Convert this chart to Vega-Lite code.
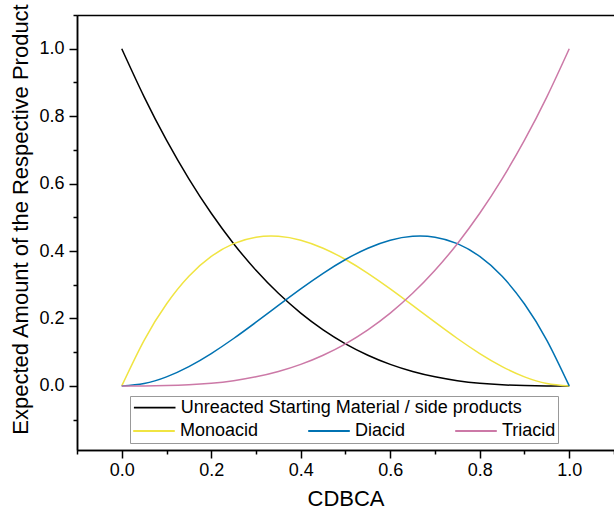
{
  "$schema": "https://vega.github.io/schema/vega-lite/v6.json",
  "width": 537,
  "height": 435,
  "autosize": {"type": "none"},
  "padding": {"left": 77, "top": 15, "right": 0, "bottom": 65},
  "config": {
    "font": "Liberation Sans",
    "view": {"stroke": null},
    "axis": {"grid": false, "domainColor": "#000000", "domainWidth": 1.5, "tickColor": "#000000", "tickWidth": 1.5, "labelColor": "#000000", "labelFontSize": 18, "titleColor": "#000000", "titleFontSize": 22, "titleFontWeight": "normal", "labelFlush": false, "labelOverlap": false, "labelBound": false}
  },
  "data": {"values": [
    {"x": 0, "y": 1, "s": "Unreacted Starting Material / side products"},
    {"x": 0.05, "y": 0.857375, "s": "Unreacted Starting Material / side products"},
    {"x": 0.1, "y": 0.729, "s": "Unreacted Starting Material / side products"},
    {"x": 0.15, "y": 0.614125, "s": "Unreacted Starting Material / side products"},
    {"x": 0.2, "y": 0.512, "s": "Unreacted Starting Material / side products"},
    {"x": 0.25, "y": 0.421875, "s": "Unreacted Starting Material / side products"},
    {"x": 0.3, "y": 0.343, "s": "Unreacted Starting Material / side products"},
    {"x": 0.35, "y": 0.274625, "s": "Unreacted Starting Material / side products"},
    {"x": 0.4, "y": 0.216, "s": "Unreacted Starting Material / side products"},
    {"x": 0.45, "y": 0.166375, "s": "Unreacted Starting Material / side products"},
    {"x": 0.5, "y": 0.125, "s": "Unreacted Starting Material / side products"},
    {"x": 0.55, "y": 0.091125, "s": "Unreacted Starting Material / side products"},
    {"x": 0.6, "y": 0.064, "s": "Unreacted Starting Material / side products"},
    {"x": 0.65, "y": 0.042875, "s": "Unreacted Starting Material / side products"},
    {"x": 0.7, "y": 0.027, "s": "Unreacted Starting Material / side products"},
    {"x": 0.75, "y": 0.015625, "s": "Unreacted Starting Material / side products"},
    {"x": 0.8, "y": 0.008, "s": "Unreacted Starting Material / side products"},
    {"x": 0.85, "y": 0.003375, "s": "Unreacted Starting Material / side products"},
    {"x": 0.9, "y": 0.001, "s": "Unreacted Starting Material / side products"},
    {"x": 0.95, "y": 0.000125, "s": "Unreacted Starting Material / side products"},
    {"x": 1, "y": 0, "s": "Unreacted Starting Material / side products"},
    {"x": 0, "y": 0, "s": "Monoacid"},
    {"x": 0.05, "y": 0.135375, "s": "Monoacid"},
    {"x": 0.1, "y": 0.243, "s": "Monoacid"},
    {"x": 0.15, "y": 0.325125, "s": "Monoacid"},
    {"x": 0.2, "y": 0.384, "s": "Monoacid"},
    {"x": 0.25, "y": 0.421875, "s": "Monoacid"},
    {"x": 0.3, "y": 0.441, "s": "Monoacid"},
    {"x": 0.35, "y": 0.443625, "s": "Monoacid"},
    {"x": 0.4, "y": 0.432, "s": "Monoacid"},
    {"x": 0.45, "y": 0.408375, "s": "Monoacid"},
    {"x": 0.5, "y": 0.375, "s": "Monoacid"},
    {"x": 0.55, "y": 0.334125, "s": "Monoacid"},
    {"x": 0.6, "y": 0.288, "s": "Monoacid"},
    {"x": 0.65, "y": 0.238875, "s": "Monoacid"},
    {"x": 0.7, "y": 0.189, "s": "Monoacid"},
    {"x": 0.75, "y": 0.140625, "s": "Monoacid"},
    {"x": 0.8, "y": 0.096, "s": "Monoacid"},
    {"x": 0.85, "y": 0.057375, "s": "Monoacid"},
    {"x": 0.9, "y": 0.027, "s": "Monoacid"},
    {"x": 0.95, "y": 0.007125, "s": "Monoacid"},
    {"x": 1, "y": 0, "s": "Monoacid"},
    {"x": 0, "y": 0, "s": "Diacid"},
    {"x": 0.05, "y": 0.007125, "s": "Diacid"},
    {"x": 0.1, "y": 0.027, "s": "Diacid"},
    {"x": 0.15, "y": 0.057375, "s": "Diacid"},
    {"x": 0.2, "y": 0.096, "s": "Diacid"},
    {"x": 0.25, "y": 0.140625, "s": "Diacid"},
    {"x": 0.3, "y": 0.189, "s": "Diacid"},
    {"x": 0.35, "y": 0.238875, "s": "Diacid"},
    {"x": 0.4, "y": 0.288, "s": "Diacid"},
    {"x": 0.45, "y": 0.334125, "s": "Diacid"},
    {"x": 0.5, "y": 0.375, "s": "Diacid"},
    {"x": 0.55, "y": 0.408375, "s": "Diacid"},
    {"x": 0.6, "y": 0.432, "s": "Diacid"},
    {"x": 0.65, "y": 0.443625, "s": "Diacid"},
    {"x": 0.7, "y": 0.441, "s": "Diacid"},
    {"x": 0.75, "y": 0.421875, "s": "Diacid"},
    {"x": 0.8, "y": 0.384, "s": "Diacid"},
    {"x": 0.85, "y": 0.325125, "s": "Diacid"},
    {"x": 0.9, "y": 0.243, "s": "Diacid"},
    {"x": 0.95, "y": 0.135375, "s": "Diacid"},
    {"x": 1, "y": 0, "s": "Diacid"},
    {"x": 0, "y": 0, "s": "Triacid"},
    {"x": 0.05, "y": 0.000125, "s": "Triacid"},
    {"x": 0.1, "y": 0.001, "s": "Triacid"},
    {"x": 0.15, "y": 0.003375, "s": "Triacid"},
    {"x": 0.2, "y": 0.008, "s": "Triacid"},
    {"x": 0.25, "y": 0.015625, "s": "Triacid"},
    {"x": 0.3, "y": 0.027, "s": "Triacid"},
    {"x": 0.35, "y": 0.042875, "s": "Triacid"},
    {"x": 0.4, "y": 0.064, "s": "Triacid"},
    {"x": 0.45, "y": 0.091125, "s": "Triacid"},
    {"x": 0.5, "y": 0.125, "s": "Triacid"},
    {"x": 0.55, "y": 0.166375, "s": "Triacid"},
    {"x": 0.6, "y": 0.216, "s": "Triacid"},
    {"x": 0.65, "y": 0.274625, "s": "Triacid"},
    {"x": 0.7, "y": 0.343, "s": "Triacid"},
    {"x": 0.75, "y": 0.421875, "s": "Triacid"},
    {"x": 0.8, "y": 0.512, "s": "Triacid"},
    {"x": 0.85, "y": 0.614125, "s": "Triacid"},
    {"x": 0.9, "y": 0.729, "s": "Triacid"},
    {"x": 0.95, "y": 0.857375, "s": "Triacid"},
    {"x": 1, "y": 1, "s": "Triacid"}
  ]},
  "layer": [
    {
      "transform": [{"filter": {"field": "s", "equal": "Unreacted Starting Material / side products"}}],
      "mark": {"type": "line", "strokeWidth": 1.5, "interpolate": "natural"},
      "encoding": {
        "x": {"field": "x", "type": "quantitative", "scale": {"domain": [-0.1, 1.1], "nice": false, "zero": false},
          "axis": {"orient": "bottom", "values": [0, 0.2, 0.4, 0.6, 0.8, 1], "format": ".1f", "tickSize": 8, "labelPadding": 3, "title": "CDBCA", "titleY": 55, "titleBaseline": "alphabetic"}},
        "y": {"field": "y", "type": "quantitative", "scale": {"domain": [-0.19, 1.1], "nice": false, "zero": false},
          "axis": {"orient": "left", "values": [0, 0.2, 0.4, 0.6, 0.8, 1], "format": ".1f", "tickSize": 8, "labelPadding": 5, "title": "Expected Amount of the Respective Product", "titleX": -50, "titleY": 204, "titleBaseline": "alphabetic", "titleAlign": "center", "titleAngle": -90}},
        "color": {"field": "s", "type": "nominal", "scale": {"domain": ["Unreacted Starting Material / side products"], "range": ["#000000"]},
          "legend": {"orient": "none", "legendX": 55.7, "legendY": 382.7, "title": null, "padding": 0, "clipHeight": 20, "labelColor": "#000000", "labelFontSize": 18, "labelFont": "Liberation Sans", "labelLimit": 600, "symbolType": "stroke", "symbolSize": 1730, "symbolStrokeWidth": 1.8, "labelOffset": 4}}
      }
    },
    {
      "transform": [{"filter": {"field": "s", "oneOf": ["Monoacid", "Diacid", "Triacid"]}}],
      "mark": {"type": "line", "strokeWidth": 1.5, "interpolate": "natural"},
      "encoding": {
        "x": {"field": "x", "type": "quantitative", "scale": {"domain": [-0.1, 1.1], "nice": false, "zero": false},
          "axis": {"orient": "bottom", "values": [-0.1, 0.1, 0.3, 0.5, 0.7, 0.9, 1.1], "labels": false, "tickSize": 4, "title": null}},
        "y": {"field": "y", "type": "quantitative", "scale": {"domain": [-0.19, 1.1], "nice": false, "zero": false},
          "axis": {"orient": "left", "values": [-0.1, 0.1, 0.3, 0.5, 0.7, 0.9, 1.1], "labels": false, "tickSize": 4, "title": null}},
        "color": {"field": "s", "type": "nominal", "scale": {"domain": ["Monoacid", "Diacid", "Triacid"], "range": ["#F0E442", "#0072B2", "#CC79A7"]},
          "legend": {"orient": "none", "legendX": 53, "legendY": 381, "title": "\u00a0", "titleFontSize": 18, "titlePadding": 5, "padding": 2, "clipHeight": 20, "columns": 3, "columnPadding": 48, "direction": "horizontal", "strokeColor": "#999999", "labelColor": "#000000", "labelFontSize": 18, "labelFont": "Liberation Sans", "labelLimit": 600, "symbolType": "stroke", "symbolSize": 1730, "symbolStrokeWidth": 1.8, "labelOffset": 4}}
      }
    },
    {
      "transform": [{"filter": {"field": "s", "equal": "Triacid"}}],
      "mark": {"type": "line", "opacity": 0},
      "encoding": {
        "x": {"field": "x", "type": "quantitative", "scale": {"domain": [-0.1, 1.1], "nice": false, "zero": false},
          "axis": {"orient": "top", "labels": false, "ticks": false, "title": null}},
        "y": {"field": "y", "type": "quantitative", "scale": {"domain": [-0.19, 1.1], "nice": false, "zero": false}, "axis": null}
      }
    }
  ],
  "resolve": {"scale": {"color": "independent"}, "axis": {"x": "independent", "y": "independent"}, "legend": {"color": "independent"}}
}
